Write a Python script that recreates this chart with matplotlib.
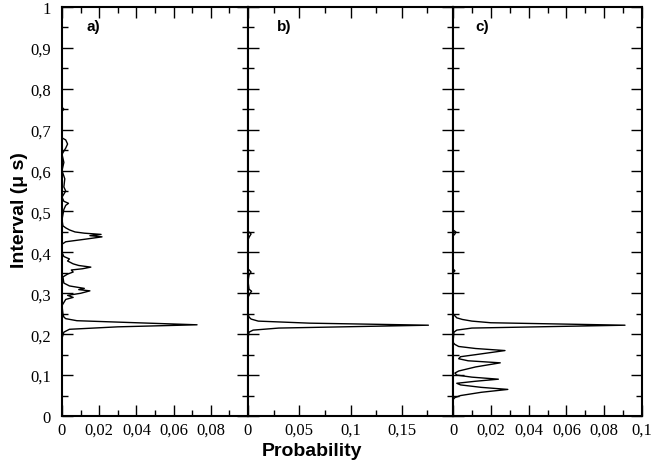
import numpy as np
import matplotlib.pyplot as plt
from matplotlib.ticker import MultipleLocator, FuncFormatter

# panel a) interval (us) vs probability
interval_a = [0.0, 0.19, 0.205, 0.212, 0.218, 0.223, 0.228, 0.233, 0.238, 0.242, 0.25, 0.27,
              0.285, 0.29, 0.295, 0.30, 0.306, 0.309, 0.312, 0.318, 0.325, 0.34, 0.347, 0.352,
              0.357, 0.36, 0.364, 0.368, 0.372, 0.379, 0.384, 0.39, 0.40, 0.42, 0.426, 0.432,
              0.438, 0.441, 0.444, 0.447, 0.45, 0.455, 0.46, 0.465, 0.48, 0.505, 0.515, 0.52,
              0.525, 0.535, 0.55, 0.56, 0.58, 0.6, 0.62, 0.64, 0.655, 0.665, 0.675, 0.68,
              0.745, 0.75, 0.755, 1.0]
prob_a = [0.0, 0.0, 0.001, 0.004, 0.03, 0.0726, 0.04, 0.008, 0.002, 0.001, 0.0005, 0.0,
          0.002, 0.006, 0.003, 0.01, 0.015, 0.009, 0.012, 0.004, 0.001, 0.0005, 0.003, 0.006,
          0.005, 0.011, 0.0155, 0.009, 0.006, 0.003, 0.004, 0.001, 0.0, 0.0, 0.002, 0.012,
          0.0215, 0.015, 0.021, 0.012, 0.007, 0.004, 0.002, 0.0005, 0.0, 0.001, 0.002, 0.0035,
          0.001, 0.0, 0.002, 0.001, 0.0015, 0.0, 0.001, 0.0, 0.002, 0.003, 0.002, 0.0,
          0.0, 0.001, 0.0, 0.0]

# panel b)
interval_b = [0.0, 0.19, 0.205, 0.21, 0.215, 0.222, 0.227, 0.232, 0.237, 0.242, 0.25, 0.29,
              0.30, 0.305, 0.31, 0.33, 0.345, 0.352, 0.36, 0.43, 0.437, 0.445, 0.452, 1.0]
prob_b = [0.0, 0.0, 0.001, 0.005, 0.03, 0.176, 0.06, 0.01, 0.003, 0.001, 0.0, 0.0,
          0.002, 0.0035, 0.001, 0.0, 0.001, 0.003, 0.0, 0.0, 0.001, 0.003, 0.0, 0.0]

# panel c)
interval_c = [0.0, 0.04, 0.045, 0.05, 0.058, 0.065, 0.07, 0.076, 0.08, 0.085, 0.09, 0.095,
              0.10, 0.105, 0.11, 0.12, 0.13, 0.135, 0.14, 0.145, 0.15, 0.16, 0.165, 0.17,
              0.175, 0.18, 0.205, 0.21, 0.215, 0.222, 0.228, 0.232, 0.236, 0.24, 0.245, 0.25,
              0.35, 0.355, 0.36, 0.44, 0.445, 0.45, 0.455, 1.0]
prob_c = [0.0, 0.0, 0.001, 0.004, 0.015, 0.029, 0.015, 0.004, 0.002, 0.012, 0.024, 0.01,
          0.002, 0.001, 0.003, 0.012, 0.025, 0.008, 0.003, 0.004, 0.012, 0.0275, 0.012, 0.003,
          0.001, 0.0, 0.0005, 0.002, 0.01, 0.091, 0.02, 0.01, 0.005, 0.002, 0.001, 0.0,
          0.0, 0.001, 0.0, 0.0, 0.001, 0.0015, 0.0, 0.0]

panel_labels = ['a)', 'b)', 'c)']
xlims = [0.1, 0.2, 0.1]
xmajor = [[0, 0.02, 0.04, 0.06, 0.08], [0, 0.05, 0.1, 0.15], [0, 0.02, 0.04, 0.06, 0.08, 0.1]]
xminor = [0.01, 0.025, 0.01]


def comma(v, pos=None):
    s = ('%.2f' % v).rstrip('0').rstrip('.')
    return s.replace('.', ',')


W, H = 651, 464
fig = plt.figure(figsize=(W / 100, H / 100), dpi=100)
edges = [62, 248, 453, 642]
bottom, top = 417, 8
serif = 'Liberation Serif'

data = [(prob_a, interval_a), (prob_b, interval_b), (prob_c, interval_c)]
for i, (p, v) in enumerate(data):
    ax = fig.add_axes([edges[i] / W, 1 - bottom / H, (edges[i + 1] - edges[i]) / W, (bottom - top) / H])
    ax.plot(p, v, color='black', lw=1.0)
    ax.set_xlim(0, xlims[i])
    ax.set_ylim(0, 1)
    ax.yaxis.set_major_locator(MultipleLocator(0.1))
    ax.yaxis.set_minor_locator(MultipleLocator(0.05))
    ax.set_xticks(xmajor[i], [comma(t) for t in xmajor[i]])
    ax.xaxis.set_minor_locator(MultipleLocator(xminor[i]))
    ax.tick_params(which='both', direction='in', top=True, right=True, width=1.0, colors='black')
    ax.tick_params(which='major', length=8)
    ax.tick_params(which='minor', length=4.5)
    ax.tick_params(axis='x', pad=4)
    for lab in ax.get_xticklabels():
        lab.set_fontfamily(serif)
        lab.set_fontsize(12)
    if i == 0:
        ax.yaxis.set_major_formatter(FuncFormatter(comma))
        ax.tick_params(axis='y', pad=8)
        for lab in ax.get_yticklabels():
            lab.set_fontfamily(serif)
            lab.set_fontsize(12)
    else:
        ax.set_yticklabels([])
    for s in ax.spines.values():
        s.set_linewidth(1.5)
    ax.text([0.134, 0.141, 0.116][i], 0.953, panel_labels[i], transform=ax.transAxes,
            fontsize=11, fontweight='bold', family='Liberation Sans', va='center', ha='left')

fig.text(20 / W, 1 - 210 / H, 'Interval (\u03bc s)', rotation=90, fontsize=14, fontweight='bold',
         family='Liberation Sans', ha='center', va='center')
fig.text(312 / W, 1 - 452 / H, 'Probability', fontsize=14, fontweight='bold',
         family='Liberation Sans', ha='center', va='center')

fig.savefig('out.png', dpi=100)
